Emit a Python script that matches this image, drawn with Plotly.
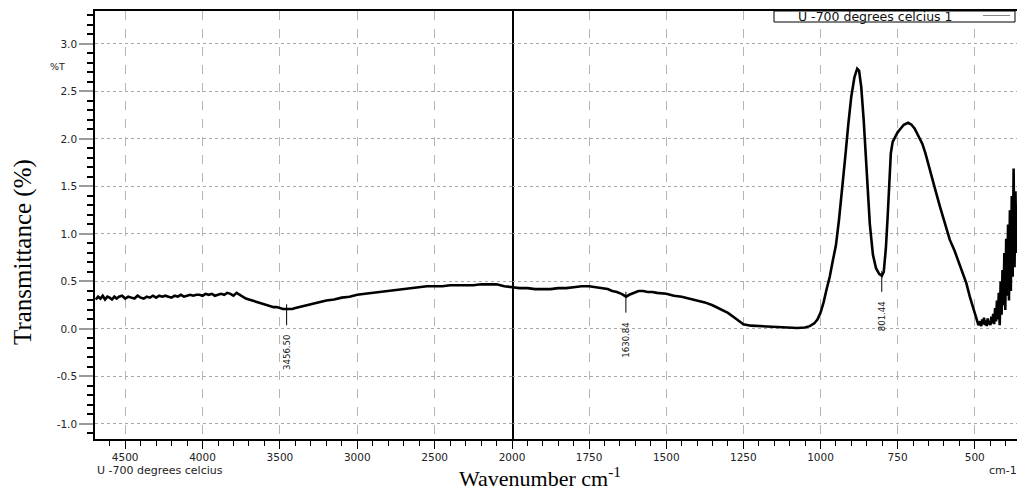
import numpy as np
import plotly.graph_objects as go

# ---------------- data ----------------
wn_left = [4690, 4675, 4660, 4645, 4630, 4615, 4600, 4585, 4570, 4555, 4540, 4520, 4500,
           4480, 4460, 4440, 4420, 4400, 4380, 4360, 4340, 4320, 4300, 4280, 4260, 4240,
           4220, 4200, 4180, 4160, 4140, 4120, 4100, 4080, 4060, 4040, 4020, 4000, 3980,
           3960, 3940, 3920, 3900, 3880, 3860, 3840, 3820, 3800, 3780, 3760, 3740, 3720,
           3700, 3680, 3660, 3640, 3620, 3600, 3580, 3560, 3540, 3520, 3500, 3480, 3456,
           3440, 3420, 3400, 3375, 3350, 3325, 3300, 3250, 3200, 3150, 3100, 3050, 3000,
           2950, 2900, 2850, 2800, 2750, 2700, 2650, 2600, 2550, 2500, 2450, 2400, 2350,
           2300, 2250, 2200, 2150, 2100, 2050, 2000]
t_left = [0.31, 0.34, 0.32, 0.35, 0.31, 0.34, 0.33, 0.31, 0.34, 0.32, 0.34, 0.35, 0.32,
          0.34, 0.33, 0.32, 0.35, 0.33, 0.32, 0.34, 0.33, 0.35, 0.33, 0.35, 0.34, 0.35,
          0.34, 0.33, 0.35, 0.34, 0.36, 0.34, 0.35, 0.36, 0.35, 0.36, 0.36, 0.35, 0.37,
          0.36, 0.37, 0.35, 0.36, 0.37, 0.36, 0.38, 0.37, 0.35, 0.38, 0.36, 0.34, 0.32,
          0.31, 0.30, 0.29, 0.28, 0.27, 0.26, 0.25, 0.24, 0.23, 0.23, 0.22, 0.21, 0.21,
          0.21, 0.21, 0.22, 0.23, 0.24, 0.25, 0.26, 0.28, 0.30, 0.31, 0.33, 0.34, 0.36,
          0.37, 0.38, 0.39, 0.40, 0.41, 0.42, 0.43, 0.44, 0.45, 0.45, 0.45, 0.46, 0.46,
          0.46, 0.46, 0.47, 0.47, 0.47, 0.45, 0.44]

wn_right = [2000, 1975, 1950, 1925, 1900, 1875, 1850, 1825, 1800, 1775, 1750, 1725, 1700,
            1690, 1675, 1660, 1645, 1630, 1620, 1605, 1590, 1575, 1560, 1545, 1530, 1500,
            1475, 1450, 1425, 1400, 1375, 1350, 1325, 1300, 1275, 1250, 1225, 1200, 1175,
            1150, 1125, 1100, 1075, 1050, 1035, 1020, 1010, 1000, 990, 980, 970, 960, 950,
            940, 930, 920, 910, 900, 890, 881, 875, 868, 860, 855, 848, 840, 830, 820, 810,
            801, 795, 788, 782, 777, 772, 766, 758, 750, 740, 730, 716, 705, 695, 680, 670,
            660, 646, 630, 613, 597, 581, 565, 548, 535, 527, 516, 505, 494, 488, 482, 479,
            476, 473, 470, 467, 464, 461, 458, 455, 452, 449, 446, 443, 440, 437, 434, 431,
            428, 425, 422, 419, 416, 413, 410, 407, 404, 401, 398, 395, 392, 389, 386, 383,
            380, 377, 374, 371, 368, 365, 363]
t_right = [0.44, 0.43, 0.43, 0.42, 0.42, 0.42, 0.43, 0.43, 0.44, 0.45, 0.45, 0.44, 0.43,
           0.42, 0.40, 0.39, 0.37, 0.34, 0.36, 0.38, 0.40, 0.40, 0.39, 0.39, 0.38, 0.37,
           0.35, 0.34, 0.32, 0.30, 0.28, 0.25, 0.21, 0.17, 0.11, 0.05, 0.035, 0.03, 0.025,
           0.02, 0.015, 0.01, 0.01, 0.015, 0.03, 0.06, 0.10, 0.17, 0.28, 0.42, 0.55, 0.72,
           0.88, 1.15, 1.45, 1.80, 2.15, 2.45, 2.65, 2.74, 2.72, 2.55, 2.20, 1.90, 1.45,
           1.10, 0.78, 0.64, 0.58, 0.56, 0.60, 0.85, 1.20, 1.55, 1.85, 1.97, 2.03, 2.07,
           2.11, 2.15, 2.17, 2.15, 2.11, 2.02, 1.95, 1.85, 1.67, 1.49, 1.29, 1.12, 0.94,
           0.82, 0.66, 0.55, 0.48, 0.34, 0.22, 0.09, 0.04, 0.08, 0.03, 0.10, 0.05, 0.12,
           0.04, 0.09, 0.03, 0.11, 0.05, 0.08, 0.04, 0.13, 0.06, 0.16, 0.05, 0.22, 0.08,
           0.30, 0.10, 0.38, 0.04, 0.50, 0.15, 0.62, 0.25, 0.80, 0.20, 0.95, 0.35, 1.10,
           0.30, 1.25, 0.40, 1.40, 0.55, 1.69, 0.65, 1.45, 0.80, 1.20]

peak_wn = [3456.50, 1630.84, 801.44]

y_ticks = [-1.0, -0.5, 0.0, 0.5, 1.0, 1.5, 2.0, 2.5, 3.0]
x_ticks_left = [4500, 4000, 3500, 3000, 2500]
x_ticks_right = [2000, 1750, 1500, 1250, 1000, 750, 500]

series_name = "U -700 degrees celcius"

# ---------------- layout geometry ----------------
W, H = 1017, 492
ML, MR, MT, MB = 95, 0, 11, 53
plot_w = W - ML - MR
plot_h = H - MT - MB
split = (512 - ML) / plot_w
YR = [-1.158, 3.347]


def px(xp):
    return (xp - ML) / plot_w


def py(yp):
    return (H - MB - yp) / plot_h


tick_font = dict(family="DejaVu Sans, Arial, sans-serif", size=10.5, color="#222")
line_style = dict(color="black", width=2.6)

fig = go.Figure()
fig.add_trace(go.Scatter(x=wn_left, y=t_left, mode="lines", line=line_style,
                         xaxis="x", yaxis="y", showlegend=False, hoverinfo="x+y"))
fig.add_trace(go.Scatter(x=wn_right, y=t_right, mode="lines", line=line_style,
                         xaxis="x2", yaxis="y", showlegend=False, hoverinfo="x+y"))

common_x = dict(showline=True, linecolor="black", linewidth=1.5, mirror=True,
                ticks="outside", ticklen=8, tickcolor="black", tickwidth=1,
                showgrid=True, gridcolor="#b5b5b5", griddash="dash", gridwidth=1,
                zeroline=False, tickfont=tick_font)

fig.update_layout(
    width=W, height=H,
    margin=dict(l=ML, r=MR, t=MT, b=MB),
    paper_bgcolor="white", plot_bgcolor="white",
    showlegend=False,
    xaxis=dict(domain=[0, split], range=[4695, 2000], anchor="y",
               tickmode="array", tickvals=x_ticks_left,
               minor=dict(tickmode="linear", tick0=0, dtick=100, ticks="outside",
                          ticklen=5, tickcolor="black", showgrid=False),
               **common_x),
    xaxis2=dict(domain=[split, 1], range=[2000, 363], anchor="y",
                tickmode="array", tickvals=x_ticks_right,
                minor=dict(tickmode="linear", tick0=0, dtick=50, ticks="outside",
                           ticklen=5, tickcolor="black", showgrid=False),
                **common_x),
    yaxis=dict(range=YR, anchor="x", showline=True, linecolor="black", linewidth=1.5,
               mirror=True, tickmode="array", tickvals=y_ticks,
               ticktext=[f"{v:.1f}" for v in y_ticks],
               ticks="outside", ticklen=14, tickwidth=2, tickcolor="#9a9a9a",
               minor=dict(tickmode="linear", tick0=0, dtick=0.1, ticks="outside",
                          ticklen=6, tickcolor="black", showgrid=False),
               showgrid=True, gridcolor="#a8a8a8", griddash="dot", gridwidth=1,
               zeroline=False, tickfont=tick_font),
)

# vertical separator at 2000 cm-1
fig.add_shape(type="line", xref="x2", yref="paper", x0=2000, x1=2000, y0=0, y1=1,
              line=dict(color="black", width=1.5))

# peak markers and labels
wn_all = np.array(wn_left + wn_right[1:], dtype=float)
t_all = np.array(t_left + t_right[1:], dtype=float)
order = np.argsort(wn_all)
for p in peak_wn:
    yv = float(np.interp(p, wn_all[order], t_all[order]))
    xr = "x" if p > 2000 else "x2"
    fig.add_shape(type="line", xref=xr, yref="y", x0=p, x1=p, y0=yv + 0.05, y1=yv - 0.17,
                  line=dict(color="black", width=1))
    fig.add_annotation(x=p, y=yv - 0.25, xref=xr, yref="y", text=f"{p:.2f}",
                       textangle=-90, showarrow=False, xanchor="center", yanchor="top",
                       font=dict(family="Liberation Sans Narrow, DejaVu Sans Condensed, "
                                        "Roboto Condensed, Arial Narrow, sans-serif",
                                 size=9.5, color="#111"))

# legend box
fig.add_shape(type="rect", xref="paper", yref="paper", x0=px(774), x1=px(1015),
              y0=py(22), y1=py(11), line=dict(color="black", width=1),
              fillcolor="white")
fig.add_annotation(x=px(875), y=py(16.5), xref="paper", yref="paper",
                   text=series_name + " 1", showarrow=False, xanchor="center",
                   yanchor="middle", font=dict(family="DejaVu Sans, sans-serif",
                                                size=12.5, color="#111"))
fig.add_shape(type="line", xref="paper", yref="paper", x0=px(983), x1=px(1010),
              y0=py(15.5), y1=py(15.5), line=dict(color="#888", width=1))

# small texts
fig.add_annotation(x=px(57), y=py(66), xref="paper", yref="paper", text="%T",
                   showarrow=False, xanchor="center", yanchor="middle",
                   font=dict(family="DejaVu Sans, sans-serif", size=9.5, color="#222"))
fig.add_annotation(x=0, y=py(470), xref="paper", yref="paper", text=series_name,
                   showarrow=False, xanchor="left", yanchor="middle",
                   font=dict(family="DejaVu Sans, sans-serif", size=11, color="#222"))
fig.add_annotation(x=px(987), y=py(470), xref="paper", yref="paper", text="cm-1",
                   showarrow=False, xanchor="left", yanchor="middle",
                   font=dict(family="DejaVu Sans, sans-serif", size=11, color="#222"))

# axis titles
serif = "Liberation Serif, Times New Roman, serif"
fig.add_annotation(x=px(540), y=py(477), xref="paper", yref="paper",
                   text="Wavenumber cm<sup>-1</sup>", showarrow=False,
                   xanchor="center", yanchor="middle",
                   font=dict(family=serif, size=22, color="black"))
fig.add_annotation(x=px(23), y=py(252), xref="paper", yref="paper",
                   text="Transmittance (%)", showarrow=False, textangle=-90,
                   xanchor="center", yanchor="middle",
                   font=dict(family=serif, size=25, color="black"))

fig.write_html("out.html")
